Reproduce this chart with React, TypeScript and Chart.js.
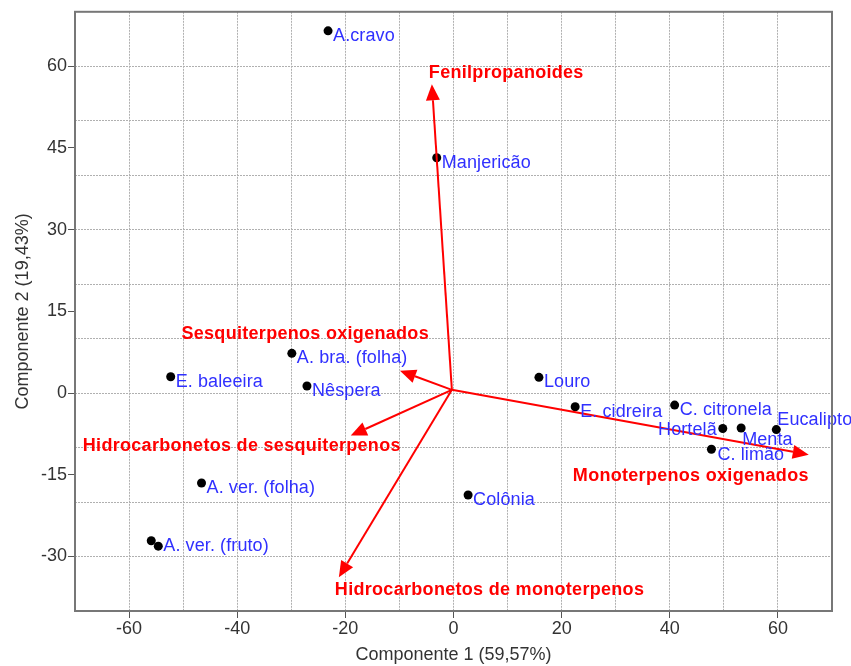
import { useEffect, useRef } from 'react';
import { Chart, registerables } from 'chart.js';

Chart.register(...registerables);

// ---- data ----
const sampleNames = [
  'A.cravo', 'Manjericão', 'A. bra. (folha)', 'E. baleeira', 'Nêspera',
  'A. ver. (folha)', '', 'A. ver. (fruto)', 'Louro', 'E. cidreira',
  'C. citronela', 'Hortelã', 'Menta', 'Eucalipto', 'C. limão', 'Colônia',
];
const pc1 = [-23.2, -3.1, -29.9, -52.3, -27.1, -46.6, -55.9, -54.6, 15.8, 22.5, 40.9, 49.8, 53.2, 59.7, 47.7, 2.7];
const pc2 = [66.5, 43.2, 7.3, 3.0, 1.3, -16.5, -27.1, -28.1, 2.9, -2.5, -2.2, -6.5, -6.4, -6.7, -10.3, -18.7];

const variableNames = [
  'Fenilpropanoides',
  'Sesquiterpenos oxigenados',
  'Hidrocarbonetos de sesquiterpenos',
  'Hidrocarbonetos de monoterpenos',
  'Monoterpenos oxigenados',
];
const loadingX = [-4.0, -9.9, -19.0, -21.2, 65.7];
const loadingY = [56.7, 4.1, -7.8, -33.8, -11.3];
const arrowOriginX = -0.3;
const arrowOriginY = 0.6;

const xTickLabels = [-60, -40, -20, 0, 20, 40, 60];
const yTickLabels = [-30, -15, 0, 15, 30, 45, 60];
const xRange = [-70, 70];
const yRange = [-40, 70];
const gridStep = 10;

const xTitle = 'Componente 1 (59,57%)';
const yTitle = 'Componente 2 (19,43%)';

// ---- styles (label placement in pixels relative to marks) ----
const FONT = '"Liberation Sans", Arial, sans-serif';
const sampleLabelStyle: Record<string, { align: CanvasTextAlign; dx: number; dy: number }> = {
  'Hortelã': { align: 'right', dx: -6, dy: 2 },
  'Menta': { align: 'left', dx: 1, dy: 12 },
  'Eucalipto': { align: 'left', dx: 1, dy: -10 },
  'A. ver. (fruto)': { align: 'left', dx: 5, dy: 0 },
  'C. limão': { align: 'left', dx: 6, dy: 6 },
};
const defaultSampleLabel = { align: 'left' as CanvasTextAlign, dx: 5, dy: 5 };
const variableLabelStyle: { align: CanvasTextAlign; dx: number; dy: number }[] = [
  { align: 'left', dx: -3, dy: -11 },
  { align: 'right', dx: 29, dy: -36.5 },
  { align: 'right', dx: 50, dy: 10 },
  { align: 'left', dx: -4, dy: 12.6 },
  { align: 'right', dx: 0, dy: 21 },
];

const biplotPlugin = {
  id: 'biplot',
  afterDatasetsDraw(chart: any) {
    const { ctx, chartArea, scales } = chart;
    const xs = scales.x;
    const ys = scales.y;
    ctx.save();
    // arrows
    const ox = xs.getPixelForValue(arrowOriginX);
    const oy = ys.getPixelForValue(arrowOriginY);
    ctx.strokeStyle = '#ff0000';
    ctx.fillStyle = '#ff0000';
    ctx.lineWidth = 2;
    const headLen = 16;
    const headHalf = 7;
    variableNames.forEach((name, i) => {
      const tx = xs.getPixelForValue(loadingX[i]);
      const ty = ys.getPixelForValue(loadingY[i]);
      const ang = Math.atan2(ty - oy, tx - ox);
      const bx = tx - headLen * Math.cos(ang);
      const by = ty - headLen * Math.sin(ang);
      ctx.beginPath();
      ctx.moveTo(ox, oy);
      ctx.lineTo(bx, by);
      ctx.stroke();
      ctx.beginPath();
      ctx.moveTo(tx, ty);
      ctx.lineTo(bx + headHalf * Math.sin(ang), by - headHalf * Math.cos(ang));
      ctx.lineTo(bx - headHalf * Math.sin(ang), by + headHalf * Math.cos(ang));
      ctx.closePath();
      ctx.fill();
      const st = variableLabelStyle[i];
      ctx.font = `bold 18px ${FONT}`;
      (ctx as any).letterSpacing = '0.3px';
      ctx.textAlign = st.align;
      ctx.textBaseline = 'middle';
      ctx.fillText(name, tx + st.dx, ty + st.dy);
    });
    // sample labels
    (ctx as any).letterSpacing = '0.1px';
    ctx.font = `18px ${FONT}`;
    ctx.fillStyle = '#3030ff';
    ctx.textBaseline = 'middle';
    sampleNames.forEach((name, i) => {
      if (!name) return;
      const st = sampleLabelStyle[name] || defaultSampleLabel;
      const px = xs.getPixelForValue(pc1[i]);
      const py = ys.getPixelForValue(pc2[i]);
      ctx.textAlign = st.align;
      ctx.fillText(name, px + st.dx, py + st.dy);
    });
    (ctx as any).letterSpacing = '0px';
    // frame
    ctx.strokeStyle = '#777777';
    ctx.lineWidth = 2;
    ctx.setLineDash([]);
    ctx.strokeRect(chartArea.left, chartArea.top, chartArea.right - chartArea.left, chartArea.bottom - chartArea.top);
    ctx.restore();
  },
};

export default function App() {
  const ref = useRef<HTMLCanvasElement | null>(null);
  useEffect(() => {
    if (!ref.current) return;
    const isGrid = (v: number, range: number[]) => v % gridStep === 0 && v !== range[0] && v !== range[1];
    const chart = new Chart(ref.current, {
      type: 'scatter',
      data: {
        datasets: [
          {
            data: pc1.map((x, i) => ({ x, y: pc2[i] })),
            backgroundColor: '#000000',
            borderWidth: 0,
            pointRadius: 4.5,
            pointHoverRadius: 4.5,
          },
        ],
      },
      options: {
        animation: false,
        responsive: false,
        events: [],
        layout: { padding: { top: 10, right: 19, left: 0, bottom: 0 } },
        plugins: { legend: { display: false }, tooltip: { enabled: false } },
        scales: {
          x: {
            type: 'linear',
            min: xRange[0],
            max: xRange[1],
            afterFit: (s: any) => { s.height = 55; },
            ticks: {
              stepSize: 10,
              autoSkip: false,
              maxRotation: 0,
              padding: 0,
              color: '#333333',
              font: { family: FONT, size: 18 },
              callback: (v: any) => (xTickLabels.includes(Number(v)) ? String(v) : ''),
            },
            grid: {
              color: (c: any) => (isGrid(c.tick?.value, xRange) ? '#b0b0b0' : 'rgba(0,0,0,0)'),
              tickColor: (c: any) => (xTickLabels.includes(c.tick?.value) ? '#555555' : 'rgba(0,0,0,0)'),
              tickLength: 7,
              tickBorderDash: [],
              lineWidth: 1,
            },
            border: { display: false, dash: [2, 1] },
            title: {
              display: true,
              text: xTitle,
              color: '#333333',
              font: { family: FONT, size: 18 },
              padding: { top: 0, bottom: 0 },
            },
          },
          y: {
            type: 'linear',
            min: yRange[0],
            max: yRange[1],
            afterFit: (s: any) => { s.width = 75; },
            ticks: {
              stepSize: 5,
              autoSkip: false,
              padding: 1,
              color: '#333333',
              font: { family: FONT, size: 18 },
              callback: (v: any) => (yTickLabels.includes(Number(v)) ? String(v) : ''),
            },
            grid: {
              color: (c: any) => (isGrid(c.tick?.value, yRange) ? '#b0b0b0' : 'rgba(0,0,0,0)'),
              tickColor: (c: any) => (yTickLabels.includes(c.tick?.value) ? '#555555' : 'rgba(0,0,0,0)'),
              tickLength: 7,
              tickBorderDash: [],
              lineWidth: 1,
            },
            border: { display: false, dash: [2, 1] },
            title: {
              display: true,
              text: yTitle,
              color: '#333333',
              font: { family: FONT, size: 18 },
              padding: { top: 12, bottom: 0 },
            },
          },
        },
      },
      plugins: [biplotPlugin],
    } as any);
    return () => chart.destroy();
  }, []);
  return (
    <div style={{ position: 'fixed', left: 0, top: 0, width: 851, height: 666, background: '#ffffff' }}>
      <canvas ref={ref} width={851} height={666} style={{ display: 'block' }} />
    </div>
  );
}
